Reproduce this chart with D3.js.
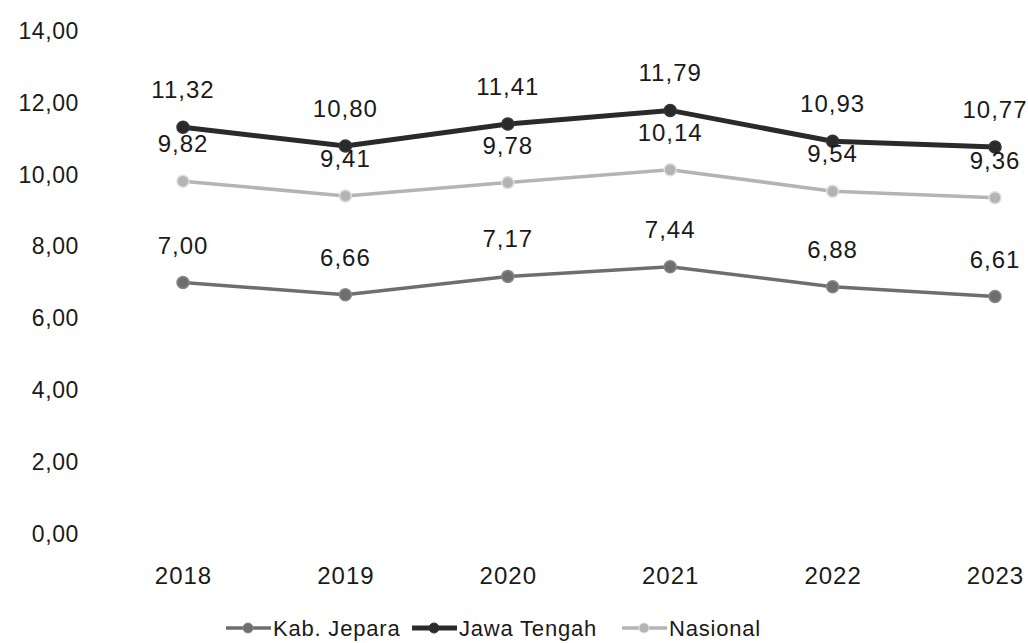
<!DOCTYPE html>
<html>
<head>
<meta charset="utf-8">
<script src="https://cdn.jsdelivr.net/npm/d3@7"></script>
<style>
  body { margin: 0; background: #fff; }
  text { font-family: "Liberation Sans", Arial, sans-serif; fill: #1a1a1a; }
</style>
</head>
<body>
<div class="container"></div>
<script>
var years = ["2018", "2019", "2020", "2021", "2022", "2023"];
var jepara = [7.00, 6.66, 7.17, 7.44, 6.88, 6.61];
var jateng = [11.32, 10.80, 11.41, 11.79, 10.93, 10.77];
var nasional = [9.82, 9.41, 9.78, 10.14, 9.54, 9.36];
var yTicks = [0, 2, 4, 6, 8, 10, 12, 14];
var seriesNames = ["Kab. Jepara", "Jawa Tengah", "Nasional"];

var loadChart = function(){
    var width = 1028, height = 643;

    var series = [
        {name: seriesNames[0], values: jepara, color: "#6e6e6e", w: 3.5},
        {name: seriesNames[1], values: jateng, color: "#2a2a2a", w: 5},
        {name: seriesNames[2], values: nasional, color: "#b4b4b4", w: 3.5}
    ];

    var fmt = function(v){ return v.toFixed(2).replace(".", ","); };

    var svg = d3.select('.container')
                .append('svg')
                .attr('width', width)
                .attr('height', height);

    var x = d3.scalePoint().domain(years).range([183, 995]);
    var y = d3.scaleLinear().domain([0, 14]).range([534, 31]);

    // y axis labels, no line
    var yAxis = svg.append('g')
        .attr('transform', 'translate(79,0)')
        .call(d3.axisLeft(y).tickValues(yTicks).tickSize(0).tickPadding(0).tickFormat(fmt));
    yAxis.select('.domain').remove();
    yAxis.selectAll('text').style('font-size', '23px').style('letter-spacing', '0.6px').attr('fill', '#1a1a1a');

    var xAxis = svg.append('g')
        .attr('transform', 'translate(0,566)')
        .call(d3.axisBottom(x).tickSize(0).tickPadding(0));
    xAxis.select('.domain').remove();
    xAxis.selectAll('text').style('font-size', '24px').style('letter-spacing', '1px')
        .attr('fill', '#1a1a1a').attr('dy', '0.75em');

    var line = d3.line()
        .x(function(d, i){ return x(years[i]); })
        .y(function(d){ return y(d); });

    series.forEach(function(s){
        var g = svg.append('g');
        g.append('path')
            .attr('d', line(s.values))
            .attr('fill', 'none')
            .attr('stroke', s.color)
            .attr('stroke-width', s.w);
        g.selectAll('circle')
            .data(s.values)
            .enter()
            .append('circle')
            .attr('cx', function(d, i){ return x(years[i]); })
            .attr('cy', function(d){ return y(d); })
            .attr('r', 6)
            .attr('fill', s.color)
            .attr('stroke', d3.color(s.color).brighter(0.6))
            .attr('stroke-width', 1.5);
        g.selectAll('text.lbl')
            .data(s.values)
            .enter()
            .append('text')
            .attr('class', 'lbl')
            .attr('x', function(d, i){ return x(years[i]); })
            .attr('y', function(d){ return y(d) - 29; })
            .attr('text-anchor', 'middle')
            .style('font-size', '24px')
            .style('letter-spacing', '1px')
            .text(fmt);
    });

    // legend
    var legX = [226, 412, 622];
    var leg = svg.selectAll('g.leg')
        .data(series)
        .enter()
        .append('g')
        .attr('class', 'leg')
        .attr('transform', function(d, i){ return 'translate(' + legX[i] + ',628)'; });
    leg.append('line')
        .attr('x1', 0).attr('x2', 45)
        .attr('y1', 0).attr('y2', 0)
        .attr('stroke', function(d){ return d.color; })
        .attr('stroke-width', function(d){ return d.w; });
    leg.append('circle')
        .attr('cx', 22).attr('cy', 0).attr('r', 5)
        .attr('fill', function(d){ return d.color; })
        .attr('stroke', function(d){ return d3.color(d.color).brighter(0.6); });
    leg.append('text')
        .attr('x', 47)
        .attr('y', 8)
        .style('font-size', '22px')
        .style('letter-spacing', '0.8px')
        .text(function(d){ return d.name; });
}
window.onload = loadChart;
</script>
</body>
</html>
